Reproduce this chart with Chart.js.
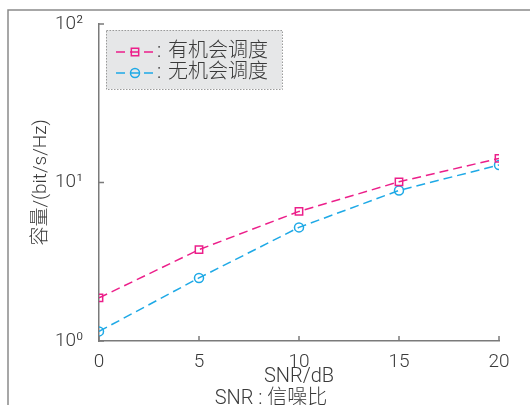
<!DOCTYPE html>
<html>
<head>
<meta charset="utf-8">
<script src="https://cdn.jsdelivr.net/npm/chart.js@4.4.1/dist/chart.umd.min.js"></script>
<style>
  html, body { margin: 0; padding: 0; background: #fff; }
  #wrap { width: 530px; height: 405px; position: relative; }
</style>
</head>
<body>
<div id="wrap"><canvas id="capChart" width="530" height="405"></canvas></div>
<script>
// data
const snrDb = [0, 5, 10, 15, 20];
const withScheduling = [1.87, 3.77, 6.57, 10.1, 14.2];
const withoutScheduling = [1.15, 2.5, 5.21, 8.91, 12.9];
const yTicks = [1, 10, 100];
const xTicks = [0, 5, 10, 15, 20];
const seriesNames = ['有机会调度', '无机会调度'];
const caption = 'SNR : 信噪比';

const FONT = "Roboto, 'Noto Sans CJK SC', sans-serif";
const TEXT = '#3a3a3a';
const AXIS = '#7a7a7a';
const MAGENTA = '#ec1f8a';
const CYAN = '#1ea9e6';
const sup = { 0: '\u2070', 1: '\u00b9', 2: '\u00b2' };

// outer frame, inward ticks, caption and the boxed legend
const decor = {
  id: 'decor',
  afterDraw(chart) {
    const ctx = chart.ctx;
    const { x, y } = chart.scales;
    const area = chart.chartArea;
    ctx.save();
    ctx.strokeStyle = '#8a8a8a';
    ctx.lineWidth = 1.5;
    ctx.beginPath();
    ctx.moveTo(8, 405);
    ctx.lineTo(8, 10);
    ctx.lineTo(530, 10);
    ctx.stroke();

    ctx.strokeStyle = AXIS;
    ctx.lineWidth = 1.5;
    ctx.beginPath();
    x.ticks.forEach(t => {
      const px = x.getPixelForValue(t.value);
      ctx.moveTo(px, area.bottom);
      ctx.lineTo(px, area.bottom - 5);
    });
    y.ticks.forEach(t => {
      const py = y.getPixelForValue(t.value);
      ctx.moveTo(area.left, py);
      ctx.lineTo(area.left + 5, py);
    });
    ctx.stroke();

    // caption under the figure
    ctx.fillStyle = TEXT;
    ctx.font = '300 20px ' + FONT;
    ctx.textAlign = 'center';
    ctx.textBaseline = 'middle';
    ctx.fillText(caption, 271, 399);
    ctx.textAlign = 'left';

    // legend box
    const lx = 106, ly = 30, lw = 176, lh = 59;
    ctx.fillStyle = '#e6e7e8';
    ctx.fillRect(lx, ly, lw, lh);
    ctx.strokeStyle = '#9a9a9a';
    ctx.lineWidth = 1;
    ctx.setLineDash([1.5, 1.5]);
    ctx.strokeRect(lx + 0.5, ly + 0.5, lw, lh);

    chart.data.datasets.forEach((ds, i) => {
      const ry = 52 + i * 21;
      ctx.strokeStyle = ds.borderColor;
      ctx.lineWidth = 1.5;
      ctx.setLineDash([9, 5]);
      ctx.beginPath();
      ctx.moveTo(116, ry);
      ctx.lineTo(154, ry);
      ctx.stroke();
      ctx.setLineDash([]);
      ctx.fillStyle = 'rgba(0,0,0,0)';
      Chart.helpers.drawPoint(ctx, {
        pointStyle: ds.pointStyle,
        radius: ds.pointRadius,
        borderWidth: 1.5,
        rotation: 0
      }, 135, ry);
      ctx.fillStyle = TEXT;
      ctx.font = '300 20px ' + FONT;
      ctx.fillText(':', 157, ry);
      ctx.fillText(ds.label, 168, ry);
    });
    ctx.restore();
  }
};

new Chart(document.getElementById('capChart'), {
  type: 'line',
  data: {
    labels: snrDb,
    datasets: [{
      label: seriesNames[0],
      data: snrDb.map((s, i) => ({ x: s, y: withScheduling[i] })),
      borderColor: MAGENTA,
      backgroundColor: 'rgba(0,0,0,0)',
      borderWidth: 1.5,
      borderDash: [9, 5],
      pointStyle: 'rect',
      pointRadius: 5.2,
      pointBorderWidth: 1.5,
      tension: 0
    }, {
      label: seriesNames[1],
      data: snrDb.map((s, i) => ({ x: s, y: withoutScheduling[i] })),
      borderColor: CYAN,
      backgroundColor: 'rgba(0,0,0,0)',
      borderWidth: 1.5,
      borderDash: [9, 5],
      pointStyle: 'circle',
      pointRadius: 4.5,
      pointBorderWidth: 1.5,
      tension: 0
    }]
  },
  options: {
    responsive: false,
    animation: false,
    layout: { padding: { top: 24, right: 31, left: 0, bottom: 16.5 } },
    plugins: {
      legend: { display: false },
      tooltip: { enabled: false }
    },
    scales: {
      x: {
        type: 'linear',
        min: 0,
        max: 20,
        afterBuildTicks: s => { s.ticks = xTicks.map(v => ({ value: v })); },
        afterFit: s => { s.height = 47.5; },
        grid: { display: false },
        border: { display: true, color: AXIS, width: 1.5 },
        ticks: { color: TEXT, padding: 2, font: { family: FONT, size: 19, weight: 300 } },
        title: {
          display: true,
          text: 'SNR/dB',
          color: TEXT,
          font: { family: FONT, size: 20, weight: 300, lineHeight: 1.2 },
          padding: { top: 0, bottom: 0 }
        }
      },
      y: {
        type: 'logarithmic',
        min: 1,
        max: 100,
        afterBuildTicks: s => { s.ticks = yTicks.map(v => ({ value: v })); },
        afterFit: s => { s.width = 99; },
        grid: { display: false },
        border: { display: true, color: AXIS, width: 1.5 },
        ticks: {
          color: TEXT,
          padding: 8,
          font: { family: FONT, size: 19, weight: 300 },
          callback: v => '10' + sup[Math.round(Math.log10(v))]
        },
        title: {
          display: true,
          text: '容量/(bit/s/Hz)',
          color: TEXT,
          font: { family: FONT, size: 19, weight: 300, lineHeight: 1.2 },
          padding: { top: 30, bottom: 0 }
        }
      }
    }
  },
  plugins: [decor]
});
</script>
</body>
</html>
